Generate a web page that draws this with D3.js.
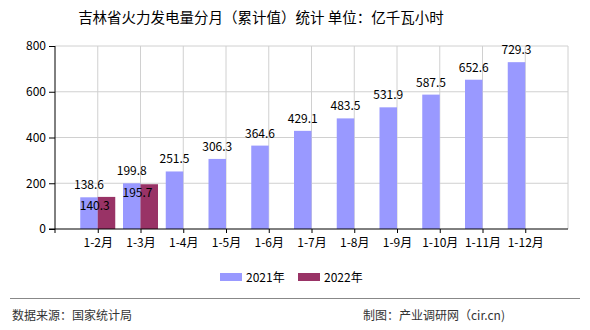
<!DOCTYPE html>
<html><head><meta charset="utf-8">
<script src="https://cdn.jsdelivr.net/npm/d3@7"></script>
<style>
html,body{margin:0;padding:0;background:#fff;}
text{font-family:"Noto Sans CJK SC","DejaVu Sans",sans-serif;}
</style></head>
<body><svg id="c" width="590" height="330"></svg>
<script>
const categories = ["1-2月","1-3月","1-4月","1-5月","1-6月","1-7月","1-8月","1-9月","1-10月","1-11月","1-12月"];
const values2021 = [138.6,199.8,251.5,306.3,364.6,429.1,483.5,531.9,587.5,652.6,729.3];
const values2022 = [140.3,195.7,null,null,null,null,null,null,null,null,null];
const seriesNames = ["2021年","2022年"];
const seriesColors = ["#9999ff","#993366"];
const yTicks = [0,200,400,600,800];

const svg = d3.select("#c");
const L=55, R=568, T=46, B=229;
const x = d3.scalePoint().domain(categories).range([L,R]).padding(1);
const y = d3.scaleLinear().domain([0,800]).range([B,T]);
const bw = 17.5;

svg.append("text").attr("x",261).attr("y",23).attr("text-anchor","middle")
  .attr("font-size",14.5).attr("fill","#000").text("吉林省火力发电量分月（累计值）统计 单位：亿千瓦小时");

// grid
const g = svg.append("g");
yTicks.filter(d=>d>0).forEach(t=>{
  g.append("line").attr("x1",L).attr("x2",R).attr("y1",y(t)).attr("y2",y(t)).attr("stroke","#d0d0d0");
});
categories.forEach(c=>{
  g.append("line").attr("x1",x(c)).attr("x2",x(c)).attr("y1",T).attr("y2",B).attr("stroke","#d0d0d0");
});
g.append("line").attr("x1",R).attr("x2",R).attr("y1",T).attr("y2",B).attr("stroke","#d0d0d0");

// bars
const bars = svg.append("g");
categories.forEach((c,i)=>{
  const v1 = values2021[i], v2 = values2022[i];
  bars.append("rect").attr("x",x(c)-bw).attr("y",y(v1)).attr("width",bw).attr("height",B-y(v1)).attr("fill",seriesColors[0]);
  if(v2!=null){
    bars.append("rect").attr("x",x(c)).attr("y",y(v2)).attr("width",bw).attr("height",B-y(v2)).attr("fill",seriesColors[1]);
  }
});
// labels
categories.forEach((c,i)=>{
  const v1 = values2021[i], v2 = values2022[i];
  svg.append("text").attr("x",x(c)-bw/2).attr("y",y(v1)-8).attr("text-anchor","middle")
    .attr("font-size",12).attr("fill","#000").text(v1.toFixed(1));
  if(v2!=null){
    svg.append("text").attr("x",x(c)-3).attr("y",y(v2)+13).attr("text-anchor","middle")
      .attr("font-size",12).attr("fill","#000").text(v2.toFixed(1));
  }
});

// axes
const ya = svg.append("g").attr("transform",`translate(${L},0)`)
  .call(d3.axisLeft(y).tickValues(yTicks).tickSize(6).tickPadding(3).tickFormat(d3.format("d")));
ya.select(".domain").attr("stroke","#000").attr("d",`M-0,${T}V${B}`);
ya.selectAll("text").attr("font-size",12).attr("fill","#000");
const xa = svg.append("g").attr("transform",`translate(0,${B})`)
  .call(d3.axisBottom(x).tickSize(4).tickPadding(5));
xa.select(".domain").attr("d",`M${L-6},0H${R}`).attr("stroke","#000");
xa.selectAll("text").attr("font-size",12).attr("fill","#000");
xa.append("line").attr("x1",L).attr("x2",L).attr("y1",0).attr("y2",4).attr("stroke","#000");

// legend
const lg = svg.append("g");
[[220,0],[298,1]].forEach(([lx,i])=>{
  lg.append("rect").attr("x",lx).attr("y",273).attr("width",22).attr("height",8).attr("fill",seriesColors[i]);
  lg.append("text").attr("x",lx+26).attr("y",281.5).attr("font-size",12).attr("fill","#000").text(seriesNames[i]);
});

// footer
svg.append("line").attr("x1",10).attr("x2",580).attr("y1",298.5).attr("y2",298.5).attr("stroke","#888").attr("stroke-width",1);
svg.append("text").attr("x",12).attr("y",320).attr("font-size",12).attr("fill","#333").text("数据来源：国家统计局");
svg.append("text").attr("x",505).attr("y",320).attr("text-anchor","end").attr("font-size",12).attr("fill","#333").text("制图：产业调研网（cir.cn)");
</script></body></html>
